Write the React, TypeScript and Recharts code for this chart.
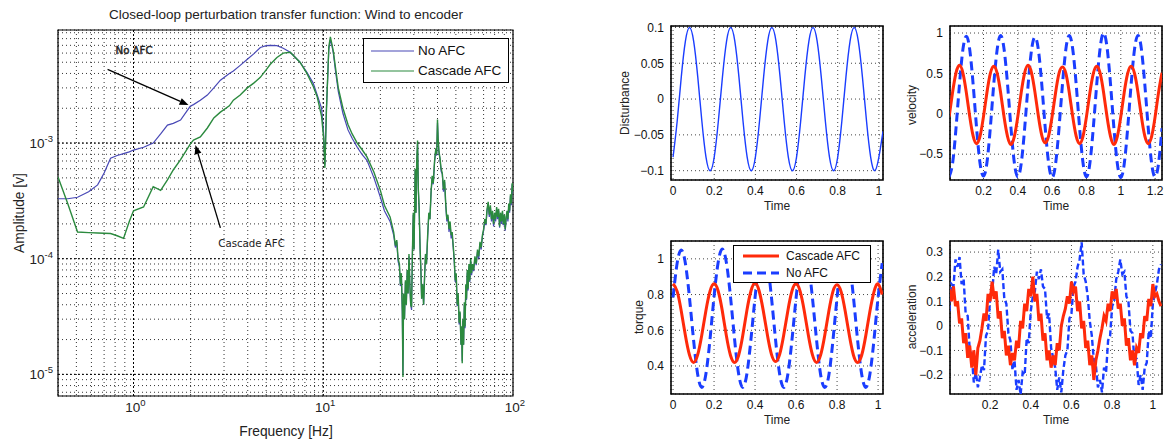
import React from 'react';
import {
  LineChart,
  Line,
  XAxis,
  YAxis,
  CartesianGrid,
  ReferenceLine,
  ReferenceArea,
  ReferenceDot,
  Legend,
} from 'recharts';

const SANS = '"Liberation Sans", Arial, Helvetica, sans-serif';

// ---------------- Left panel: closed-loop perturbation transfer function ----------------
const freqHz = [
  0.4, 0.45, 0.507, 0.58, 0.647, 0.7, 0.757, 0.82, 0.886, 0.95,
  1.0, 1.13, 1.27, 1.39, 1.51, 1.62, 1.77, 1.99, 2.07, 2.25,
  2.45, 2.65, 2.87, 3.2, 3.36, 3.65, 3.98, 4.3, 4.66, 5.0,
  5.26, 5.7, 6.15, 6.7, 7.54, 8.2, 8.85, 9.3, 9.8, 10.05,
  10.2, 10.4, 10.7, 10.9, 11.1, 11.3, 11.6, 12.0, 12.7, 13.5,
  14.2, 15.1, 16.0, 17.0, 18.5, 20.0, 21.0, 22.5, 23.5, 24.0,
  24.4, 24.8, 25.2, 25.5, 25.8, 26.1, 26.3, 26.5, 26.8, 27.1,
  27.4, 27.7, 28.0, 28.3, 28.6, 28.9, 29.2, 29.5, 29.8, 30.1,
  30.5, 30.8, 31.1, 31.4, 31.7, 32.0, 32.4, 32.7, 33.0, 33.4,
  33.8, 34.2, 34.6, 35.0, 35.5, 36.0, 36.5, 37.0, 37.5, 38.0,
  38.6, 39.2, 39.6, 40.0, 40.3, 40.7, 41.2, 41.8, 42.4, 43.0,
  43.6, 44.2, 44.8, 45.4, 46.0, 46.6, 47.2, 47.8, 48.4, 49.0,
  49.6, 50.2, 50.8, 51.4, 52.0, 52.6, 53.2, 53.6, 54.0, 54.4,
  54.9, 55.4, 55.9, 56.4, 56.9, 57.4, 58.0, 58.6, 59.2, 59.8,
  60.5, 61.2, 62.0, 63, 64, 65, 66, 67, 68, 69,
  70, 71, 72, 73, 74, 75, 76, 77, 78, 79,
  80, 81, 82, 83, 84, 85, 86, 87, 88, 89,
  90, 91, 92, 93, 94, 95, 96, 97, 98, 99,
  100,
];
const ampNoAfc = [
  3.3e-4, 3.3e-4, 3.4e-4, 3.8e-4, 4.35e-4, 5.5e-4, 7.4e-4, 7.8e-4, 8.1e-4, 8.4e-4,
  8.7e-4, 9.2e-4, 1.0e-3, 1.2e-3, 1.43e-3, 1.48e-3, 1.58e-3, 2.08e-3, 2.15e-3, 2.35e-3,
  2.6e-3, 3.0e-3, 3.5e-3, 4.0e-3, 4.2e-3, 4.7e-3, 5.3e-3, 5.9e-3, 6.7e-3, 6.95e-3,
  7.0e-3, 6.95e-3, 6.6e-3, 6.1e-3, 5.0e-3, 4.1e-3, 3.3e-3, 2.6e-3, 2.0e-3, 1.2e-3,
  6.5e-4, 2.0e-3, 6.5e-3, 7.8e-3, 7.0e-3, 6.0e-3, 4.2e-3, 2.8e-3, 1.8e-3, 1.3e-3,
  1.1e-3, 9.2e-4, 8.0e-4, 7.1e-4, 5.0e-4, 3.4e-4, 2.6e-4, 2.1e-4, 1.6e-4, 1.25e-4,
  1.4e-4, 9.5e-5, 8.5e-5, 5.8e-5, 7.2e-5, 3.4e-5, 1.0e-5, 4.8e-5, 3.0e-5, 6.3e-5,
  4.0e-5, 7.8e-5, 5.0e-5, 1.05e-4, 5.8e-5, 4.0e-5, 3.6e-5, 1.1e-4, 2.4e-4, 1.2e-4,
  5.8e-4, 2.5e-4, 6.8e-4, 1.0e-3, 4.0e-4, 2.7e-4, 1.2e-4, 8.0e-5, 4.5e-5, 6.0e-5,
  4.0e-5, 7.0e-5, 1.1e-4, 9.0e-5, 1.55e-4, 2.4e-4, 2.2e-4, 3.7e-4, 5.0e-4, 4.4e-4,
  6.8e-4, 8.8e-4, 7.8e-4, 1.5e-3, 1.1e-3, 8.3e-4, 7.3e-4, 5.7e-4, 5.4e-4, 3.8e-4,
  4.6e-4, 2.9e-4, 2.1e-4, 2.3e-4, 1.7e-4, 2.0e-4, 1.5e-4, 1.6e-4, 1.25e-4, 9.5e-5,
  6.3e-5, 7.2e-5, 3.9e-5, 4.8e-5, 2.7e-5, 3.4e-5, 1.8e-5, 2.5e-5, 1.3e-5, 2.9e-5,
  1.8e-5, 4.0e-5, 2.5e-5, 5.8e-5, 4.4e-5, 7.6e-5, 5.3e-5, 8.6e-5, 6.3e-5, 9.6e-5,
  7.2e-5, 8.7e-5, 7.8e-5, 1.0e-4, 8.8e-5, 1.15e-4, 1.0e-4, 1.35e-4, 1.2e-4, 1.55e-4,
  1.75e-4, 2.1e-4, 1.95e-4, 2.6e-4, 3.0e-4, 2.3e-4, 2.8e-4, 2.1e-4, 2.5e-4, 1.9e-4,
  2.4e-4, 2.1e-4, 2.7e-4, 2.2e-4, 2.6e-4, 1.85e-4, 2.4e-4, 2.0e-4, 2.5e-4, 1.95e-4,
  2.3e-4, 1.75e-4, 2.2e-4, 2.5e-4, 2.1e-4, 2.9e-4, 2.5e-4, 3.5e-4, 2.9e-4, 4.4e-4,
  3.7e-4,
];
const ampCascade = [
  5.1e-4, 3.0e-4, 1.7e-4, 1.68e-4, 1.67e-4, 1.66e-4, 1.65e-4, 1.58e-4, 1.5e-4, 2.1e-4,
  2.6e-4, 2.8e-4, 4.2e-4, 3.9e-4, 4.8e-4, 5.85e-4, 7.2e-4, 9.8e-4, 1.06e-3, 1.13e-3,
  1.35e-3, 1.65e-3, 1.85e-3, 2.1e-3, 2.35e-3, 2.6e-3, 3.0e-3, 3.3e-3, 3.7e-3, 4.3e-3,
  4.8e-3, 5.5e-3, 6.0e-3, 6.1e-3, 5.0e-3, 4.0e-3, 3.1e-3, 2.5e-3, 1.7e-3, 1.1e-3,
  6.1e-4, 2.0e-3, 6.8e-3, 8.3e-3, 7.2e-3, 6.2e-3, 4.5e-3, 3.0e-3, 2.0e-3, 1.45e-3,
  1.2e-3, 1.0e-3, 8.8e-4, 7.6e-4, 5.6e-4, 3.9e-4, 2.9e-4, 2.3e-4, 1.7e-4, 1.3e-4,
  1.45e-4, 1.0e-4, 9.0e-5, 6.0e-5, 7.5e-5, 3.5e-5, 9.5e-6, 5.0e-5, 3.0e-5, 6.5e-5,
  4.0e-5, 8.0e-5, 5.0e-5, 1.1e-4, 6.0e-5, 4.0e-5, 3.8e-5, 1.1e-4, 2.5e-4, 1.2e-4,
  6.0e-4, 2.5e-4, 7.0e-4, 1.05e-3, 4.0e-4, 2.8e-4, 1.2e-4, 8.0e-5, 4.5e-5, 6.0e-5,
  4.0e-5, 7.0e-5, 1.1e-4, 9.0e-5, 1.6e-4, 2.5e-4, 2.2e-4, 3.8e-4, 5.2e-4, 4.5e-4,
  7.0e-4, 9.0e-4, 8.0e-4, 1.6e-3, 1.1e-3, 8.5e-4, 7.5e-4, 6.0e-4, 5.5e-4, 4.0e-4,
  4.8e-4, 3.0e-4, 2.2e-4, 2.4e-4, 1.8e-4, 2.1e-4, 1.6e-4, 1.7e-4, 1.3e-4, 1.0e-4,
  6.5e-5, 7.5e-5, 4.0e-5, 5.0e-5, 2.8e-5, 3.5e-5, 1.8e-5, 2.6e-5, 1.25e-5, 3.0e-5,
  1.8e-5, 4.2e-5, 2.6e-5, 6.0e-5, 4.5e-5, 8.0e-5, 5.5e-5, 9.0e-5, 6.5e-5, 1.0e-4,
  7.5e-5, 9.0e-5, 8.0e-5, 1.05e-4, 9.0e-5, 1.2e-4, 1.05e-4, 1.4e-4, 1.25e-4, 1.6e-4,
  1.8e-4, 2.2e-4, 2.0e-4, 2.7e-4, 3.1e-4, 2.4e-4, 2.9e-4, 2.2e-4, 2.6e-4, 2.0e-4,
  2.5e-4, 2.2e-4, 2.8e-4, 2.3e-4, 2.7e-4, 1.9e-4, 2.5e-4, 2.1e-4, 2.6e-4, 2.0e-4,
  2.4e-4, 1.8e-4, 2.3e-4, 2.6e-4, 2.2e-4, 3.0e-4, 2.6e-4, 3.6e-4, 3.0e-4, 4.5e-4,
  3.8e-4,
];
const freqGridTicks = [
  0.5, 0.6, 0.7, 0.8, 0.9, 1, 2, 3, 4, 5, 6, 7, 8, 9, 10, 20, 30, 40, 50, 60, 70, 80, 90, 100,
];
const ampGridTicks = [
  7e-6, 8e-6, 9e-6, 1e-5, 2e-5, 3e-5, 4e-5, 5e-5, 6e-5, 7e-5, 8e-5, 9e-5,
  1e-4, 2e-4, 3e-4, 4e-4, 5e-4, 6e-4, 7e-4, 8e-4, 9e-4,
  1e-3, 2e-3, 3e-3, 4e-3, 5e-3, 6e-3, 7e-3, 8e-3, 9e-3,
];
const freqDecades = [1, 10];
const ampDecades = [1e-5, 1e-4, 1e-3];
const tfNames = ['No AFC', 'Cascade AFC'];

// ---------------- Right panels ----------------
const time02 = [
  0, 0.02, 0.04, 0.06, 0.08, 0.1, 0.12, 0.14, 0.16, 0.18,
  0.2, 0.22, 0.24, 0.26, 0.28, 0.3, 0.32, 0.34, 0.36, 0.38,
  0.4, 0.42, 0.44, 0.46, 0.48, 0.5, 0.52, 0.54, 0.56, 0.58,
  0.6, 0.62, 0.64, 0.66, 0.68, 0.7, 0.72, 0.74, 0.76, 0.78,
  0.8, 0.82, 0.84, 0.86, 0.88, 0.9, 0.92, 0.94, 0.96, 0.98,
  1.0, 1.02,
];
const disturbance = [
  -0.081, -0.031, 0.031, 0.081, 0.1, 0.081, 0.031, -0.031, -0.081, -0.1,
  -0.081, -0.031, 0.031, 0.081, 0.1, 0.081, 0.031, -0.031, -0.081, -0.1,
  -0.081, -0.031, 0.031, 0.081, 0.1, 0.081, 0.031, -0.031, -0.081, -0.1,
  -0.081, -0.031, 0.031, 0.081, 0.1, 0.081, 0.031, -0.031, -0.081, -0.1,
  -0.081, -0.031, 0.031, 0.081, 0.1, 0.081, 0.031, -0.031, -0.081, -0.1,
  -0.081, -0.045,
];

const velTime = [
  0, 0.02, 0.04, 0.06, 0.08, 0.1, 0.12, 0.14, 0.16, 0.18,
  0.2, 0.22, 0.24, 0.26, 0.28, 0.3, 0.32, 0.34, 0.36, 0.38,
  0.4, 0.42, 0.44, 0.46, 0.48, 0.5, 0.52, 0.54, 0.56, 0.58,
  0.6, 0.62, 0.64, 0.66, 0.68, 0.7, 0.72, 0.74, 0.76, 0.78,
  0.8, 0.82, 0.84, 0.86, 0.88, 0.9, 0.92, 0.94, 0.96, 0.98,
  1.0, 1.02, 1.04, 1.06, 1.08, 1.1, 1.12, 1.14, 1.16, 1.18,
  1.2, 1.22, 1.24,
];
const velCascade = [
  -0.035, 0.265, 0.507, 0.6, 0.507, 0.265, -0.035, -0.277, -0.37, -0.277,
  -0.035, 0.26, 0.5, 0.59, 0.5, 0.26, -0.04, -0.28, -0.38, -0.28,
  -0.035, 0.265, 0.507, 0.6, 0.507, 0.265, -0.03, -0.27, -0.36, -0.27,
  -0.03, 0.26, 0.5, 0.58, 0.5, 0.26, -0.035, -0.277, -0.37, -0.277,
  -0.035, 0.26, 0.5, 0.59, 0.5, 0.26, -0.04, -0.28, -0.38, -0.28,
  -0.035, 0.265, 0.5, 0.59, 0.5, 0.265, -0.035, -0.277, -0.37, -0.277,
  -0.035, 0.265, 0.507,
];
const velNoAfc = [
  -0.78, -0.614, -0.179, 0.359, 0.794, 0.96, 0.794, 0.359, -0.179, -0.614,
  -0.77, -0.61, -0.17, 0.37, 0.8, 0.97, 0.8, 0.37, -0.17, -0.61,
  -0.78, -0.614, -0.179, 0.355, 0.79, 0.95, 0.79, 0.355, -0.18, -0.62,
  -0.79, -0.62, -0.18, 0.36, 0.8, 0.97, 0.8, 0.365, -0.175, -0.61,
  -0.78, -0.61, -0.17, 0.37, 0.82, 1.0, 0.82, 0.37, -0.18, -0.62,
  -0.79, -0.62, -0.18, 0.36, 0.8, 0.97, 0.8, 0.36, -0.18, -0.62,
  -0.78, -0.614, -0.179,
];

const torqueCascade = [
  0.86, 0.818, 0.708, 0.572, 0.462, 0.42, 0.462, 0.572, 0.708, 0.818,
  0.86, 0.82, 0.71, 0.57, 0.46, 0.42, 0.46, 0.57, 0.71, 0.82,
  0.865, 0.82, 0.71, 0.575, 0.465, 0.425, 0.465, 0.575, 0.71, 0.82,
  0.86, 0.818, 0.708, 0.572, 0.462, 0.42, 0.462, 0.572, 0.708, 0.818,
  0.855, 0.815, 0.705, 0.57, 0.46, 0.42, 0.46, 0.57, 0.705, 0.815,
  0.86, 0.8,
];
const torqueNoAfc = [
  0.784, 0.976, 1.05, 0.976, 0.784, 0.546, 0.354, 0.28, 0.354, 0.546,
  0.79, 0.98, 1.055, 0.98, 0.79, 0.55, 0.355, 0.28, 0.355, 0.55,
  0.784, 0.976, 1.05, 0.976, 0.784, 0.546, 0.354, 0.28, 0.354, 0.546,
  0.78, 0.97, 1.045, 0.97, 0.78, 0.545, 0.35, 0.28, 0.35, 0.545,
  0.784, 0.976, 1.05, 0.976, 0.784, 0.546, 0.354, 0.28, 0.354, 0.546,
  0.784, 0.976,
];

const accTime = [
  0, 0.01, 0.02, 0.03, 0.04, 0.05, 0.06, 0.07, 0.08, 0.09,
  0.1, 0.11, 0.12, 0.13, 0.14, 0.15, 0.16, 0.17, 0.18, 0.19,
  0.2, 0.21, 0.22, 0.23, 0.24, 0.25, 0.26, 0.27, 0.28, 0.29,
  0.3, 0.31, 0.32, 0.33, 0.34, 0.35, 0.36, 0.37, 0.38, 0.39,
  0.4, 0.41, 0.42, 0.43, 0.44, 0.45, 0.46, 0.47, 0.48, 0.49,
  0.5, 0.51, 0.52, 0.53, 0.54, 0.55, 0.56, 0.57, 0.58, 0.59,
  0.6, 0.61, 0.62, 0.63, 0.64, 0.65, 0.66, 0.67, 0.68, 0.69,
  0.7, 0.71, 0.72, 0.73, 0.74, 0.75, 0.76, 0.77, 0.78, 0.79,
  0.8, 0.81, 0.82, 0.83, 0.84, 0.85, 0.86, 0.87, 0.88, 0.89,
  0.9, 0.91, 0.92, 0.93, 0.94, 0.95, 0.96, 0.97, 0.98, 0.99,
  1.0, 1.01, 1.02, 1.03, 1.04,
];
const accNoAfc = [
  0.06, 0.17, 0.16, 0.27,
  0.24, 0.28, 0.17, 0.19, 0.05, 0.04, -0.1, -0.12, -0.23, -0.19, -0.25, -0.21, -0.16, -0.18, -0.04, -0.02, 0.11, 0.13, 0.24, 0.21,
  0.31, 0.22, 0.23, 0.11, 0.09, -0.03, -0.06, -0.18, -0.14, -0.26, -0.22, -0.28, -0.19, -0.2, -0.05, -0.07, 0.06, 0.12, 0.14, 0.22,
  0.19, 0.23, 0.16, 0.15, 0.03, 0.05, -0.09, -0.13, -0.17, -0.26, -0.21, -0.27, -0.18, -0.12, -0.1, 0.03, 0.05, 0.16, 0.18, 0.24,
  0.27, 0.34, 0.21, 0.18, 0.12, 0.02, -0.04, -0.14, -0.16, -0.25, -0.22, -0.27, -0.17, -0.19, -0.06, -0.04, 0.08, 0.1, 0.19, 0.22,
  0.27, 0.21, 0.22, 0.12, 0.1, -0.02, -0.03, -0.15, -0.13, -0.24, -0.2, -0.26, -0.17, -0.15, -0.02, -0.05, 0.09, 0.13, 0.17, 0.23, 0.25,
];
const accCascade = [
  0.15, 0.1, 0.16, 0.08, 0.1, 0.01, 0.03, -0.07, -0.03, -0.13, -0.08, -0.17, -0.1, -0.2, -0.09, -0.06, -0.01, 0.05, 0.02, 0.13, 0.1,
  0.18, 0.11, 0.14, 0.03, 0.06, -0.05, -0.02, -0.12, -0.08, -0.16, -0.11, -0.14, -0.06, -0.09, 0.02, -0.01, 0.09, 0.06, 0.15, 0.12,
  0.2, 0.1, 0.13, 0.02, 0.05, -0.06, -0.03, -0.14, -0.1, -0.17, -0.12, -0.16, -0.07, -0.1, 0.0, 0.04, 0.07, 0.12, 0.09, 0.18,
  0.14, 0.16, 0.06, 0.1, -0.01, 0.02, -0.09, -0.06, -0.16, -0.12, -0.22, -0.14, -0.1, -0.05, -0.01, 0.04, 0.02, 0.09, 0.06, 0.14,
  0.11, 0.15, 0.07, 0.09, 0.0, 0.03, -0.08, -0.05, -0.14, -0.1, -0.16, -0.09, -0.11, -0.03, -0.05, 0.04, 0.02, 0.11, 0.08, 0.17, 0.12, 0.13, 0.1, 0.08,
];

const distTicksY = [-0.1, -0.05, 0, 0.05, 0.1];
const distTicksX = [0, 0.2, 0.4, 0.6, 0.8, 1];
const velTicksY = [-0.5, 0, 0.5, 1];
const velTicksX = [0.2, 0.4, 0.6, 0.8, 1, 1.2];
const torqueTicksY = [0.4, 0.6, 0.8, 1];
const torqueTicksX = [0, 0.2, 0.4, 0.6, 0.8, 1];
const accTicksY = [-0.2, -0.1, 0, 0.1, 0.2, 0.3];
const accTicksX = [0.2, 0.4, 0.6, 0.8, 1];

// ---------------- derived tables ----------------
const tfData = freqHz.map((f, i) => ({ f, noAfc: ampNoAfc[i], cascade: ampCascade[i] }));
const distData = time02.map((t, i) => ({ t, d: disturbance[i] }));
const velData = velTime.map((t, i) => ({ t, cascade: velCascade[i], noAfc: velNoAfc[i] }));
const torqueData = time02.map((t, i) => ({ t, cascade: torqueCascade[i], noAfc: torqueNoAfc[i] }));
const accData = accTime.map((t, i) => ({ t, cascade: accCascade[i], noAfc: accNoAfc[i] }));

const RED = '#ff2a0a';
const BLUE = '#1a3dff';
const TF_BLUE = '#4848b6';
const TF_GREEN = '#2b8a3e';

type Spec = { key: string; name: string; color: string; width: number; dash?: string; curve: any };

const isDecade = (v: number) => Math.abs(Math.log10(v) - Math.round(Math.log10(v))) < 1e-6;

const LogXTick = (props: any) => {
  const { x, y, payload } = props;
  if (!isDecade(payload.value)) return <g />;
  const e = Math.round(Math.log10(payload.value));
  return (
    <text x={x + 2} y={y + 16} textAnchor="middle" fontFamily={SANS} fontSize={13.5} fill="#222">
      <tspan>10</tspan>
      <tspan dy={-6} fontSize={9.5}>{String(e)}</tspan>
    </text>
  );
};

const LogYTick = (props: any) => {
  const { x, y, payload } = props;
  if (!isDecade(payload.value)) return <g />;
  const e = Math.round(Math.log10(payload.value));
  return (
    <text x={x - 5} y={y + 5} textAnchor="end" fontFamily={SANS} fontSize={13.5} fill="#222">
      <tspan>10</tspan>
      <tspan dy={-6} fontSize={9.5}>{String(e)}</tspan>
    </text>
  );
};

const Arrow = (p: any) => {
  const { x1, y1, x2, y2 } = p;
  const ang = Math.atan2(y2 - y1, x2 - x1);
  const L = 9;
  const W = 3.5;
  const bx = x2 - L * Math.cos(ang);
  const by = y2 - L * Math.sin(ang);
  const px = -Math.sin(ang) * W;
  const py = Math.cos(ang) * W;
  return (
    <g>
      <line x1={x1} y1={y1} x2={bx} y2={by} stroke="#000" strokeWidth={1.3} />
      <polygon points={`${x2},${y2} ${bx + px},${by + py} ${bx - px},${by - py}`} fill="#000" />
    </g>
  );
};

const annText = (label: string, thick: number) => (p: any) => (
  <text
    x={p.cx}
    y={p.cy + 4}
    fontFamily='"DejaVu Sans", Verdana, sans-serif'
    fontSize={10.2}
    fill="#222"
    stroke="#222"
    strokeWidth={thick}
  >
    {label}
  </text>
);

const LegendBox = ({ items, fontSize, lineLen, gap, padL, rowH, lineW }: any) => (
  <div
    style={{
      width: '100%',
      height: '100%',
      boxSizing: 'border-box',
      border: '1px solid #000',
      background: '#fff',
      display: 'flex',
      flexDirection: 'column',
      justifyContent: 'center',
      paddingLeft: padL,
      fontFamily: SANS,
      fontSize,
      color: '#111',
    }}
  >
    {items.map((s: Spec) => (
      <div key={s.key} style={{ display: 'flex', alignItems: 'center', height: rowH }}>
        <svg width={lineLen} height={8} style={{ display: 'block' }}>
          <line x1={0} y1={4} x2={lineLen} y2={4} stroke={s.color} strokeWidth={lineW} strokeDasharray={s.dash} />
        </svg>
        <span style={{ marginLeft: gap, lineHeight: 1 }}>{s.name}</span>
      </div>
    ))}
  </div>
);

const Txt = ({ x, y, size, rot, children, family }: any) => (
  <div
    style={{
      position: 'absolute',
      left: x,
      top: y,
      transform: `translate(-50%, -50%)${rot ? ` rotate(${rot}deg)` : ''}`,
      fontFamily: family || SANS,
      fontSize: size,
      whiteSpace: 'nowrap',
      color: '#222',
      lineHeight: 1,
    }}
  >
    {children}
  </div>
);

const fmt = (v: number) => (v < 0 ? '\u2212' + String(-v) : String(v));

type SubProps = {
  left: number;
  top: number;
  width: number;
  height: number;
  margin: any;
  yWidth: number;
  xHeight: number;
  data: any[];
  xDomain: [number, number];
  yDomain: [number, number];
  xTicks: number[];
  yTicks: number[];
  series: Spec[];
  legend?: { items: Spec[]; left: number; top: number; width: number; height: number };
};

const SubPlot = (p: SubProps) => (
  <div style={{ position: 'absolute', left: p.left, top: p.top }}>
    <LineChart width={p.width} height={p.height} data={p.data} margin={p.margin}>
      <CartesianGrid stroke="#444" strokeDasharray="1 3" />
      <XAxis
        dataKey="t"
        type="number"
        domain={p.xDomain}
        allowDataOverflow
        ticks={p.xTicks}
        interval={0}
        tickFormatter={fmt}
        tick={{ fontSize: 12, fill: '#111', fontFamily: SANS }}
        tickLine={false}
        axisLine={false}
        tickSize={0}
        tickMargin={6}
        height={p.xHeight}
      />
      <YAxis
        type="number"
        domain={p.yDomain}
        allowDataOverflow
        ticks={p.yTicks}
        interval={0}
        tickFormatter={fmt}
        tick={{ fontSize: 12, fill: '#111', fontFamily: SANS }}
        tickLine={false}
        axisLine={false}
        tickSize={0}
        tickMargin={7}
        width={p.yWidth}
      />
      {p.series.map((s) => (
        <Line
          key={s.key}
          dataKey={s.key}
          name={s.name}
          type={s.curve}
          stroke={s.color}
          strokeWidth={s.width}
          strokeDasharray={s.dash}
          dot={false}
          activeDot={false}
          isAnimationActive={false}
        />
      ))}
      <ReferenceArea
        x1={p.xDomain[0]}
        x2={p.xDomain[1]}
        y1={p.yDomain[0]}
        y2={p.yDomain[1]}
        fill="none"
        stroke="#000"
        strokeWidth={1.6}
        ifOverflow="visible"
      />
      {p.legend ? (
        <Legend
          layout="vertical"
          align="center"
          verticalAlign="middle"
          wrapperStyle={{
            position: 'absolute',
            left: p.legend.left,
            top: p.legend.top,
            width: p.legend.width,
            height: p.legend.height,
          }}
          content={() => (
            <LegendBox items={p.legend!.items} fontSize={12} lineLen={36} gap={7} padL={9} rowH={17} lineW={3} />
          )}
        />
      ) : null}
    </LineChart>
  </div>
);

const cascadeThick: Spec = { key: 'cascade', name: 'Cascade AFC', color: RED, width: 3, curve: 'natural' };
const noAfcThick: Spec = { key: 'noAfc', name: 'No AFC', color: BLUE, width: 3, dash: '9 5', curve: 'natural' };

export default function App() {
  const tfSpecs: Spec[] = [
    { key: 'noAfc', name: tfNames[0], color: TF_BLUE, width: 1.2, curve: 'linear' },
    { key: 'cascade', name: tfNames[1], color: TF_GREEN, width: 1.4, curve: 'linear' },
  ];
  return (
    <div style={{ position: 'absolute', left: 0, top: 0, width: 1167, height: 444, background: '#fff', overflow: 'hidden' }}>
      {/* Left: transfer function */}
      <div style={{ position: 'absolute', left: 0, top: 0 }}>
        <LineChart width={530} height={444} data={tfData} margin={{ top: 30, right: 17, bottom: 0, left: 0 }}>
          <CartesianGrid stroke="#000" strokeOpacity={0.8} strokeDasharray="1 3" />
          <XAxis
            dataKey="f"
            type="number"
            scale="log"
            domain={[0.4, 100]}
            allowDataOverflow
            ticks={freqGridTicks}
            interval={0}
            tick={<LogXTick />}
            tickLine={false}
            axisLine={false}
            tickSize={0}
            tickMargin={0}
            height={48}
          />
          <YAxis
            type="number"
            scale="log"
            domain={[6.5e-6, 9.5e-3]}
            allowDataOverflow
            ticks={ampGridTicks}
            interval={0}
            tick={<LogYTick />}
            tickLine={false}
            axisLine={false}
            tickSize={0}
            tickMargin={0}
            width={58}
          />
          {freqDecades.map((v) => (
            <ReferenceLine key={'fx' + v} x={v} stroke="#000" strokeDasharray="2 2" />
          ))}
          {ampDecades.map((v) => (
            <ReferenceLine key={'ay' + v} y={v} stroke="#000" strokeDasharray="2 2" />
          ))}
          {tfSpecs.map((s) => (
            <Line
              key={s.key}
              dataKey={s.key}
              name={s.name}
              type="linear"
              stroke={s.color}
              strokeWidth={s.width}
              dot={false}
              activeDot={false}
              isAnimationActive={false}
            />
          ))}
          <ReferenceArea
            x1={0.4}
            x2={100}
            y1={6.5e-6}
            y2={9.5e-3}
            fill="none"
            stroke="#000"
            strokeWidth={1.2}
            ifOverflow="visible"
          />
          <ReferenceLine
            segment={[
              { x: 0.73, y: 4.34e-3 },
              { x: 1.95, y: 2.13e-3 },
            ]}
            shape={Arrow}
            ifOverflow="visible"
          />
          <ReferenceLine
            segment={[
              { x: 2.87, y: 1.85e-4 },
              { x: 2.12, y: 9.6e-4 },
            ]}
            shape={Arrow}
            ifOverflow="visible"
          />
          <ReferenceDot x={0.804} y={6.35e-3} r={0} shape={annText('No AFC', 0.45)} ifOverflow="visible" />
          <ReferenceDot x={2.8} y={1.37e-4} r={0} shape={annText('Cascade AFC', 0)} ifOverflow="visible" />
          <Legend
            layout="vertical"
            align="center"
            verticalAlign="middle"
            wrapperStyle={{ position: 'absolute', left: 363, top: 38, width: 146, height: 45 }}
            content={() => (
              <LegendBox items={tfSpecs} fontSize={13.5} lineLen={43} gap={4} padL={7} rowH={20} lineW={1.2} />
            )}
          />
        </LineChart>
      </div>

      <SubPlot
        left={610}
        top={0}
        width={280}
        height={220}
        margin={{ top: 26, right: 7, bottom: 0, left: 0 }}
        yWidth={61}
        xHeight={40}
        data={distData}
        xDomain={[-0.01, 1.02]}
        yDomain={[-0.113, 0.102]}
        xTicks={distTicksX}
        yTicks={distTicksY}
        series={[{ key: 'd', name: 'Disturbance', color: BLUE, width: 1.4, curve: 'natural' }]}
      />
      <SubPlot
        left={880}
        top={0}
        width={287}
        height={220}
        margin={{ top: 26, right: 5, bottom: 0, left: 0 }}
        yWidth={70}
        xHeight={40}
        data={velData}
        xDomain={[0.005, 1.24]}
        yDomain={[-0.82, 1.087]}
        xTicks={velTicksX}
        yTicks={velTicksY}
        series={[noAfcThick, cascadeThick]}
      />
      <SubPlot
        left={610}
        top={220}
        width={280}
        height={224}
        margin={{ top: 21, right: 7, bottom: 0, left: 0 }}
        yWidth={61}
        xHeight={50}
        data={torqueData}
        xDomain={[-0.01, 1.024]}
        yDomain={[0.243, 1.1]}
        xTicks={torqueTicksX}
        yTicks={torqueTicksY}
        series={[noAfcThick, cascadeThick]}
        legend={{ items: [cascadeThick, noAfcThick], left: 123, top: 25, width: 138, height: 38 }}
      />
      <SubPlot
        left={880}
        top={220}
        width={287}
        height={224}
        margin={{ top: 21, right: 5, bottom: 0, left: 0 }}
        yWidth={70}
        xHeight={50}
        data={accData}
        xDomain={[0.003, 1.045]}
        yDomain={[-0.277, 0.345]}
        xTicks={accTicksX}
        yTicks={accTicksY}
        series={[
          { key: 'noAfc', name: 'No AFC', color: BLUE, width: 2.4, dash: '6 3', curve: 'linear' },
          { key: 'cascade', name: 'Cascade AFC', color: RED, width: 3, curve: 'linear' },
        ]}
      />

      {/* Titles and axis labels */}
      <Txt x={286} y={15} size={13.5}>Closed-loop perturbation transfer function: Wind to encoder</Txt>
      <Txt x={286} y={432} size={13.8}>Frequency [Hz]</Txt>
      <Txt x={20} y={213} size={13.8} rot={-90}>Amplitude [v]</Txt>

      <Txt x={777} y={206} size={12}>Time</Txt>
      <Txt x={625} y={103} size={12} rot={-90}>Disturbance</Txt>
      <Txt x={1056} y={206} size={12}>Time</Txt>
      <Txt x={912} y={105} size={12} rot={-90}>velocity</Txt>
      <Txt x={777} y={420} size={12}>Time</Txt>
      <Txt x={639} y={317} size={12} rot={-90}>torque</Txt>
      <Txt x={1056} y={420} size={12}>Time</Txt>
      <Txt x={912} y={317} size={12} rot={-90}>acceleration</Txt>
    </div>
  );
}
